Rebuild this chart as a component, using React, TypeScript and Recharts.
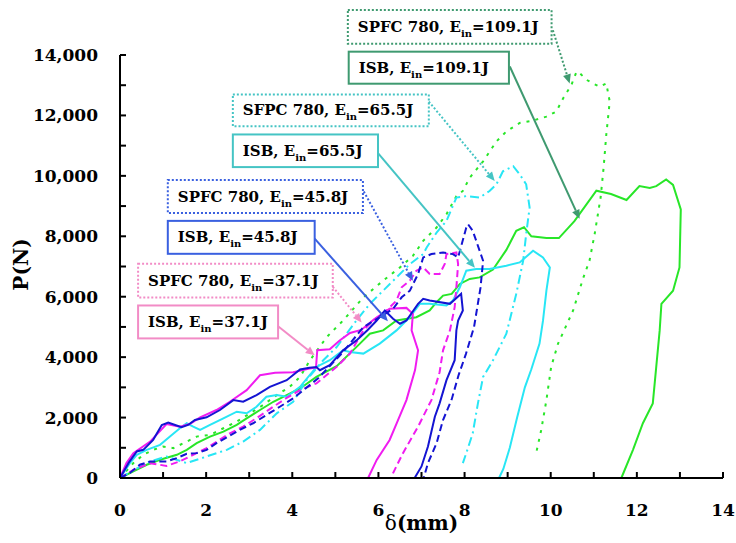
import { LineChart, Line, XAxis, YAxis, ReferenceArea, ReferenceLine } from "recharts";

// δ (mm), P (N)
const isb37: [number, number][] = [
  [0, 0], [0.15, 500], [0.31, 823], [0.7, 1206], [1.08, 1788], [1.39, 1700], [1.62, 1788], [1.86, 2009],
  [2.24, 2250], [2.55, 2523], [2.94, 2908], [3.25, 3400], [3.6, 3480], [4.02, 3500], [4.4, 3620], [4.55, 3650],
  [4.58, 4230], [4.87, 4260], [5.1, 4550], [5.34, 4800], [5.6, 4900], [5.9, 5250], [6.26, 5600], [6.65, 5630],
  [6.8, 5435], [6.77, 4885], [6.92, 4226], [6.85, 3570], [6.65, 2580], [6.45, 1900], [6.26, 1260], [5.96, 600],
  [5.76, 0],
];
const spfc37: [number, number][] = [
  [0, 0], [0.31, 270], [0.7, 490], [1.08, 400], [1.39, 550], [1.7, 770], [2.01, 990], [2.24, 1200],
  [2.55, 1480], [2.86, 1700], [3.17, 1980], [3.56, 2360], [3.87, 2650], [4.18, 2910], [4.56, 3130], [5.03, 3680],
  [5.34, 4120], [5.65, 4885], [5.88, 5214], [6.19, 5544], [6.42, 5873], [6.54, 6311], [6.73, 6532], [6.88, 6861],
  [7.04, 6970], [7.19, 6752], [7.42, 6752], [7.54, 7082], [7.58, 7411], [7.81, 7464], [7.85, 7082], [7.81, 6311],
  [7.77, 5652], [7.66, 4885], [7.5, 4226], [7.42, 3500], [7.23, 2579], [6.92, 1700], [6.57, 823], [6.34, 165],
  [6.3, 0],
];
const isb45: [number, number][] = [
  [0, 0], [0.2, 500], [0.39, 877], [0.54, 932], [0.77, 1262], [0.97, 1756], [1.12, 1833], [1.28, 1756],
  [1.43, 1679], [1.58, 1756], [1.74, 1920], [2.01, 2009], [2.32, 2250], [2.63, 2579], [2.86, 2523], [3.17, 2744],
  [3.48, 3017], [3.87, 3238], [4.18, 3590], [4.4, 3650], [4.56, 3676], [4.64, 3567], [4.87, 3732], [5.18, 4226],
  [5.49, 4555], [5.75, 4900], [5.96, 5214], [6.15, 5544], [6.34, 5270], [6.5, 5105], [6.65, 5214], [6.92, 5764],
  [7.04, 5929], [7.19, 5873], [7.66, 5764], [7.92, 6094], [7.96, 5544], [7.85, 5214], [7.81, 4885], [7.77, 3897],
  [7.58, 3238], [7.42, 2470], [7.31, 2029], [7.15, 1041], [7.0, 382], [6.84, 0],
];
const spfc45: [number, number][] = [
  [0, 0], [0.23, 165], [0.46, 438], [0.7, 547], [1.08, 547], [1.32, 659], [1.55, 800], [1.78, 823],
  [2.01, 932], [2.24, 1153], [2.78, 1591], [3.09, 1812], [3.4, 2085], [3.71, 2358], [4.02, 2635], [4.6, 3300],
  [5.18, 4170], [5.65, 4993], [6.03, 5323], [6.34, 5600], [6.54, 5980], [6.73, 6200], [6.92, 6752], [7.04, 7300],
  [7.23, 7411], [7.5, 7464], [7.73, 7411], [7.85, 7300], [8.04, 8290], [8.08, 8400], [8.19, 8180], [8.27, 7850],
  [8.43, 7190], [8.37, 6300], [8.22, 5000], [8.03, 4100], [7.86, 3400], [7.7, 2600], [7.5, 1920], [7.35, 1153],
  [7.15, 494], [7.05, 0],
];
const isb65: [number, number][] = [
  [0, 0], [0.23, 494], [0.39, 767], [0.62, 932], [0.93, 1097], [1.16, 1370], [1.39, 1647], [1.55, 1812],
  [1.7, 1700], [1.86, 1591], [2.09, 1756], [2.4, 1976], [2.71, 2194], [2.94, 2141], [3.17, 2358], [3.4, 2688],
  [3.64, 2744], [3.87, 2688], [4.18, 3017], [4.56, 3676], [4.87, 3897], [5.18, 4226], [5.34, 4170], [5.65, 4117],
  [6.03, 4447], [6.42, 4885], [6.73, 5323], [6.96, 5764], [7.19, 5764], [7.58, 5708], [7.73, 5873], [7.89, 6311],
  [8.04, 6861], [8.27, 6916], [8.58, 6916], [8.97, 7026], [9.28, 7135], [9.59, 7520], [9.82, 7300], [9.98, 6970],
  [9.9, 6202], [9.82, 5200], [9.74, 4447], [9.55, 3600], [9.4, 3000], [9.22, 2000], [9.05, 1000], [8.9, 300],
  [8.8, 0],
];
const spfc65: [number, number][] = [
  [0, 0], [0.3, 250], [0.7, 547], [1.08, 712], [1.55, 494], [2.01, 712], [2.48, 932], [2.86, 1206],
  [3.25, 1591], [3.64, 2141], [4.02, 2523], [4.33, 3238], [4.72, 3897], [5.03, 4335], [5.49, 5214], [5.8, 5764],
  [6.11, 6202], [6.42, 6640], [6.73, 7082], [7.04, 7411], [7.12, 7630], [7.35, 8120], [7.58, 8510], [7.81, 9280],
  [8.04, 9330], [8.35, 9280], [8.58, 9500], [8.74, 9720], [8.89, 10150], [9.13, 10320], [9.28, 10050], [9.43, 9720],
  [9.51, 8950], [9.43, 8070], [9.36, 7190], [9.2, 6094], [8.97, 4776], [8.66, 3897], [8.43, 3346], [8.31, 2470],
  [8.19, 1482], [8.04, 823], [7.96, 494],
];
const isb109: [number, number][] = [
  [0, 0], [0.31, 219], [0.62, 438], [0.93, 603], [1.32, 767], [1.55, 932], [1.78, 1153], [2.09, 1370],
  [2.4, 1535], [2.71, 1756], [2.94, 1976], [3.25, 2250], [3.56, 2523], [3.87, 2744], [4.18, 2964], [4.56, 3346],
  [5.03, 3700], [5.57, 4447], [5.8, 4776], [6.11, 4885], [6.42, 5214], [6.88, 5323], [7.19, 5544], [7.35, 5818],
  [7.5, 6037], [7.7, 6094], [7.89, 6423], [8.12, 6588], [8.35, 6640], [8.66, 6900], [8.97, 7550], [9.2, 8180],
  [9.38, 8300], [9.55, 8000], [9.9, 7940], [10.19, 7940], [10.55, 8500], [11.06, 9510], [11.4, 9400], [11.76, 9200],
  [12.06, 9660], [12.3, 9600], [12.45, 9660], [12.68, 9880], [12.84, 9700], [13.02, 8890], [12.99, 6970], [12.84, 6200],
  [12.57, 5764], [12.53, 4885], [12.45, 3676], [12.37, 2470], [12.14, 1812], [11.91, 932], [11.64, 0],
];
const spfc109: [number, number][] = [
  [0, 0], [0.31, 494], [0.54, 767], [0.77, 932], [1.0, 1041], [1.24, 988], [1.55, 1206], [1.78, 1370],
  [2.09, 1426], [2.4, 1647], [2.71, 1864], [3.02, 2141], [3.32, 2414], [3.64, 2744], [3.94, 3017], [4.18, 3346],
  [4.41, 3897], [4.8, 4664], [5.18, 5214], [5.65, 5980], [6.11, 6532], [6.5, 6970], [6.8, 7350], [7.04, 7850],
  [7.35, 8290], [7.58, 8730], [7.81, 9330], [7.96, 9500], [8.12, 9940], [8.43, 10480], [8.74, 11140], [8.97, 11470],
  [9.28, 11750], [9.59, 11830], [9.9, 11960], [10.13, 12130], [10.29, 12570], [10.48, 13010], [10.6, 13450], [10.68, 13390],
  [10.83, 13180], [10.98, 13060], [11.14, 12950], [11.29, 13060], [11.37, 12460], [11.29, 11360], [11.23, 10300], [11.16, 9300],
  [11.02, 8070], [10.9, 7190], [10.75, 6600], [10.52, 5544], [10.17, 4447], [10.01, 3676], [9.9, 2579], [9.78, 1591],
  [9.67, 876],
];

const xTicks = [0, 1, 2, 3, 4, 5, 6, 7, 8, 9, 10, 11, 12, 13, 14];
const yTicks = [0, 1000, 2000, 3000, 4000, 5000, 6000, 7000, 8000, 9000, 10000, 11000, 12000, 13000, 14000];

const MAGENTA = "#f01cf0";
const BLUE = "#1414d2";
const CYAN = "#28e6f5";
const GREEN = "#28e628";

const series = [
  { key: "isb109", pts: isb109, color: GREEN, dash: undefined },
  { key: "spfc109", pts: spfc109, color: GREEN, dash: "3 6" },
  { key: "isb65", pts: isb65, color: CYAN, dash: undefined },
  { key: "spfc65", pts: spfc65, color: CYAN, dash: "9 4 2 4" },
  { key: "spfc37", pts: spfc37, color: MAGENTA, dash: "7 4" },
  { key: "isb37", pts: isb37, color: MAGENTA, dash: undefined },
  { key: "spfc45", pts: spfc45, color: BLUE, dash: "7 4" },
  { key: "isb45", pts: isb45, color: BLUE, dash: undefined },
];

// label boxes, in data units
const boxes = [
  { name: "SPFC 780, E", val: "=109.1J", x1: 5.29, x2: 10.02, y1: 14370, y2: 15490, color: "#3f9a70", dotted: true },
  { name: "ISB, E", val: "=109.1J", x1: 5.31, x2: 9.03, y1: 13050, y2: 14110, color: "#3f9a70", dotted: false },
  { name: "SFPC 780, E", val: "=65.5J", x1: 2.62, x2: 7.17, y1: 11640, y2: 12690, color: "#45c4c4", dotted: true },
  { name: "ISB, E", val: "=65.5J", x1: 2.62, x2: 5.99, y1: 10290, y2: 11370, color: "#45c4c4", dotted: false },
  { name: "SPFC 780, E", val: "=45.8J", x1: 1.11, x2: 5.64, y1: 8770, y2: 9860, color: "#3a60e0", dotted: true },
  { name: "ISB, E", val: "=45.8J", x1: 1.11, x2: 4.52, y1: 7420, y2: 8510, color: "#3a60e0", dotted: false },
  { name: "SPFC 780, E", val: "=37.1J", x1: 0.42, x2: 4.94, y1: 5970, y2: 7090, color: "#f28cc6", dotted: true },
  { name: "ISB, E", val: "=37.1J", x1: 0.42, x2: 3.67, y1: 4620, y2: 5710, color: "#f28cc6", dotted: false },
];

const arrows = [
  { from: [10.05, 14820], to: [10.44, 13060], color: "#3f9a70", dotted: true },
  { from: [9.05, 13620], to: [10.67, 8580], color: "#3f9a70", dotted: false },
  { from: [7.17, 12460], to: [8.7, 9830], color: "#45c4c4", dotted: true },
  { from: [5.99, 10750], to: [8.24, 6960], color: "#45c4c4", dotted: false },
  { from: [5.66, 9480], to: [6.8, 6530], color: "#3a60e0", dotted: true },
  { from: [4.52, 7920], to: [6.22, 5190], color: "#3a60e0", dotted: false },
  { from: [4.94, 6330], to: [5.61, 5150], color: "#f28cc6", dotted: true },
  { from: [3.67, 5020], to: [4.52, 4060], color: "#f28cc6", dotted: false },
];

const FONT = "DejaVu Serif";

function XTick(props: any) {
  const { x, y, payload } = props;
  const v = payload.value;
  return (
    <g>
      <line x1={x} y1={y} x2={x} y2={y - 6} stroke="#000" strokeWidth={2} />
      {v % 2 === 0 && (
        <text x={x} y={y + 38} textAnchor="middle" fontFamily={FONT} fontWeight="bold" fontSize={17} fill="#000">
          {v}
        </text>
      )}
    </g>
  );
}

function YTick(props: any) {
  const { x, y, payload } = props;
  const v = payload.value;
  return (
    <g>
      <line x1={x} y1={y} x2={x + 6} y2={y} stroke="#000" strokeWidth={2} />
      {v % 2000 === 0 && (
        <text x={x - 22} y={y + 6} textAnchor="end" fontFamily={FONT} fontWeight="bold" fontSize={17} fill="#000">
          {v.toLocaleString("en-US")}
        </text>
      )}
    </g>
  );
}

function Box(props: any) {
  const { x, y, width, height, b } = props;
  return (
    <g>
      <rect x={x} y={y} width={width} height={height} fill="#fff" stroke={b.color} strokeWidth={2}
        strokeDasharray={b.dotted ? "2 2" : undefined} />
      <text x={x + 10} y={y + height / 2 + 5} fontFamily={FONT} fontWeight="bold" fontSize={15} fill="#000">
        {b.name}
        <tspan fontSize={10} dy={5}>in</tspan>
        <tspan dy={-5}>{b.val}</tspan>
      </text>
    </g>
  );
}

function Arrow(props: any) {
  const { x1, y1, x2, y2, a } = props;
  const ang = Math.atan2(y2 - y1, x2 - x1);
  const L = 9;
  const W = 4;
  const bx = x2 - L * Math.cos(ang);
  const by = y2 - L * Math.sin(ang);
  const px = -Math.sin(ang) * W;
  const py = Math.cos(ang) * W;
  return (
    <g>
      <line x1={x1} y1={y1} x2={bx} y2={by} stroke={a.color} strokeWidth={2}
        strokeDasharray={a.dotted ? "2 2" : undefined} />
      <polygon points={`${x2},${y2} ${bx + px},${by + py} ${bx - px},${by - py}`} fill={a.color} />
    </g>
  );
}

export default function App() {
  return (
    <div style={{ position: "absolute", left: 0, top: 0, background: "#fff" }}>
      <LineChart width={736} height={543} margin={{ top: 55, right: 13, bottom: 0, left: 0 }}>
        <XAxis
          type="number"
          dataKey="x"
          domain={[0, 14]}
          ticks={xTicks}
          interval={0}
          tickSize={0}
          tickMargin={0}
          tickLine={false}
          tick={<XTick />}
          axisLine={{ stroke: "#000", strokeWidth: 2 }}
          height={65}
          label={{
            content: (p: any) => {
              const vb = p.viewBox;
              return (
                <text x={vb.x + vb.width / 2} y={vb.y + 52} textAnchor="middle" fontFamily={FONT} fontSize={20} fill="#000">
                  <tspan>δ</tspan>
                  <tspan fontWeight="bold">(mm)</tspan>
                </text>
              );
            },
          }}
        />
        <YAxis
          type="number"
          dataKey="p"
          domain={[0, 14000]}
          ticks={yTicks}
          interval={0}
          tickSize={0}
          tickMargin={0}
          tickLine={false}
          tick={<YTick />}
          axisLine={{ stroke: "#000", strokeWidth: 2 }}
          width={120}
          label={{
            content: (p: any) => {
              const vb = p.viewBox;
              const cx = vb.x + 21;
              const cy = vb.y + vb.height / 2 - 2;
              return (
                <text x={cx} y={cy} transform={`rotate(-90 ${cx} ${cy})`} textAnchor="middle" dominantBaseline="central"
                  fontFamily={FONT} fontWeight="bold" fontSize={20} fill="#000">
                  P(N)
                </text>
              );
            },
          }}
        />
        {series.map((s) => (
          <Line
            key={s.key}
            data={s.pts.map(([x, p]) => ({ x, p }))}
            dataKey="p"
            type="linear"
            stroke={s.color}
            strokeWidth={2}
            strokeDasharray={s.dash}
            dot={false}
            activeDot={false}
            legendType="none"
            isAnimationActive={false}
          />
        ))}
        {boxes.map((b, i) => (
          <ReferenceArea
            key={"b" + i}
            x1={b.x1}
            x2={b.x2}
            y1={b.y1}
            y2={b.y2}
            ifOverflow="visible"
            shape={(p: any) => <Box {...p} b={b} />}
          />
        ))}
        {arrows.map((a, i) => (
          <ReferenceLine
            key={"a" + i}
            segment={[{ x: a.from[0], y: a.from[1] }, { x: a.to[0], y: a.to[1] }]}
            ifOverflow="visible"
            shape={(p: any) => <Arrow {...p} a={a} />}
          />
        ))}
      </LineChart>
    </div>
  );
}
